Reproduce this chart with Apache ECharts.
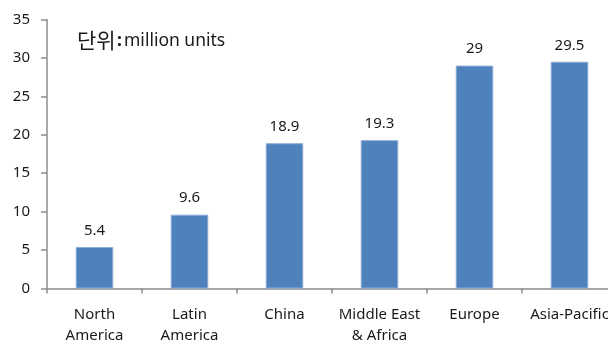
<!DOCTYPE html>
<html>
<head>
<meta charset="utf-8">
<script src="https://cdn.jsdelivr.net/npm/echarts@6/dist/echarts.min.js"></script>
<style>
  html, body { margin: 0; padding: 0; background: #fff; }
  #chart { width: 608px; height: 341px; }
</style>
</head>
<body>
<div id="chart"></div>
<script>
// Regional unit volumes (million units)
const regions = ['North\nAmerica', 'Latin\nAmerica', 'China', 'Middle East\n& Africa', 'Europe', 'Asia-Pacific'];
const units = [5.4, 9.6, 18.9, 19.3, 29, 29.5];
const yTicks = [0, 5, 10, 15, 20, 25, 30, 35];

const FONT = '"Noto Sans", "Open Sans", sans-serif';
const TEXT = '#1a1a1a';
const AXIS = '#8c8c8c';

const chart = echarts.init(document.getElementById('chart'), null, { renderer: 'canvas' });

chart.setOption({
  animation: false,
  backgroundColor: '#ffffff',
  // unit note in the upper-left corner of the plot
  graphic: [
    {
      type: 'text', x: 77, y: 40.5,
      style: {
        text: '단위', fill: TEXT, verticalAlign: 'middle',
        font: '21px "Noto Sans CJK KR", sans-serif'
      }
    },
    {
      type: 'text', x: 117, y: 41.5,
      style: {
        text: ':', fill: TEXT, verticalAlign: 'middle',
        font: 'bold 17.5px "Noto Sans", sans-serif'
      }
    },
    {
      type: 'text', x: 124, y: 41.5,
      style: {
        text: 'million units', fill: TEXT, verticalAlign: 'middle',
        font: '17.5px "Noto Sans", sans-serif'
      }
    }
  ],
  grid: {
    left: 47, right: -9, top: 19.5, bottom: 52.5,
    containLabel: false, outerBoundsMode: 'none'
  },
  xAxis: {
    type: 'category',
    data: regions,
    axisLine: { show: true, lineStyle: { color: AXIS, width: 1.5 } },
    axisTick: { show: true, alignWithLabel: false, length: 5, lineStyle: { color: AXIS, width: 1.5 } },
    axisLabel: {
      color: TEXT, fontFamily: FONT, fontSize: 15, lineHeight: 21,
      margin: 16, interval: 0, hideOverlap: false
    },
    splitLine: { show: false }
  },
  yAxis: {
    type: 'value',
    min: yTicks[0],
    max: yTicks[yTicks.length - 1],
    interval: 5,
    axisLine: { show: true, lineStyle: { color: AXIS, width: 1.5 } },
    axisTick: { show: true, inside: false, length: 6, lineStyle: { color: AXIS, width: 1.5 } },
    axisLabel: { color: TEXT, fontFamily: FONT, fontSize: 15, margin: 17 },
    splitLine: { show: false }
  },
  series: [{
    type: 'bar',
    data: units,
    barWidth: '39.5%',
    itemStyle: { color: '#4f81bd', borderColor: '#8aaad4', borderWidth: 1 },
    label: {
      show: true, position: 'top', distance: 9,
      color: TEXT, fontFamily: FONT, fontSize: 15,
      formatter: p => String(p.value)
    }
  }]
});
</script>
</body>
</html>
